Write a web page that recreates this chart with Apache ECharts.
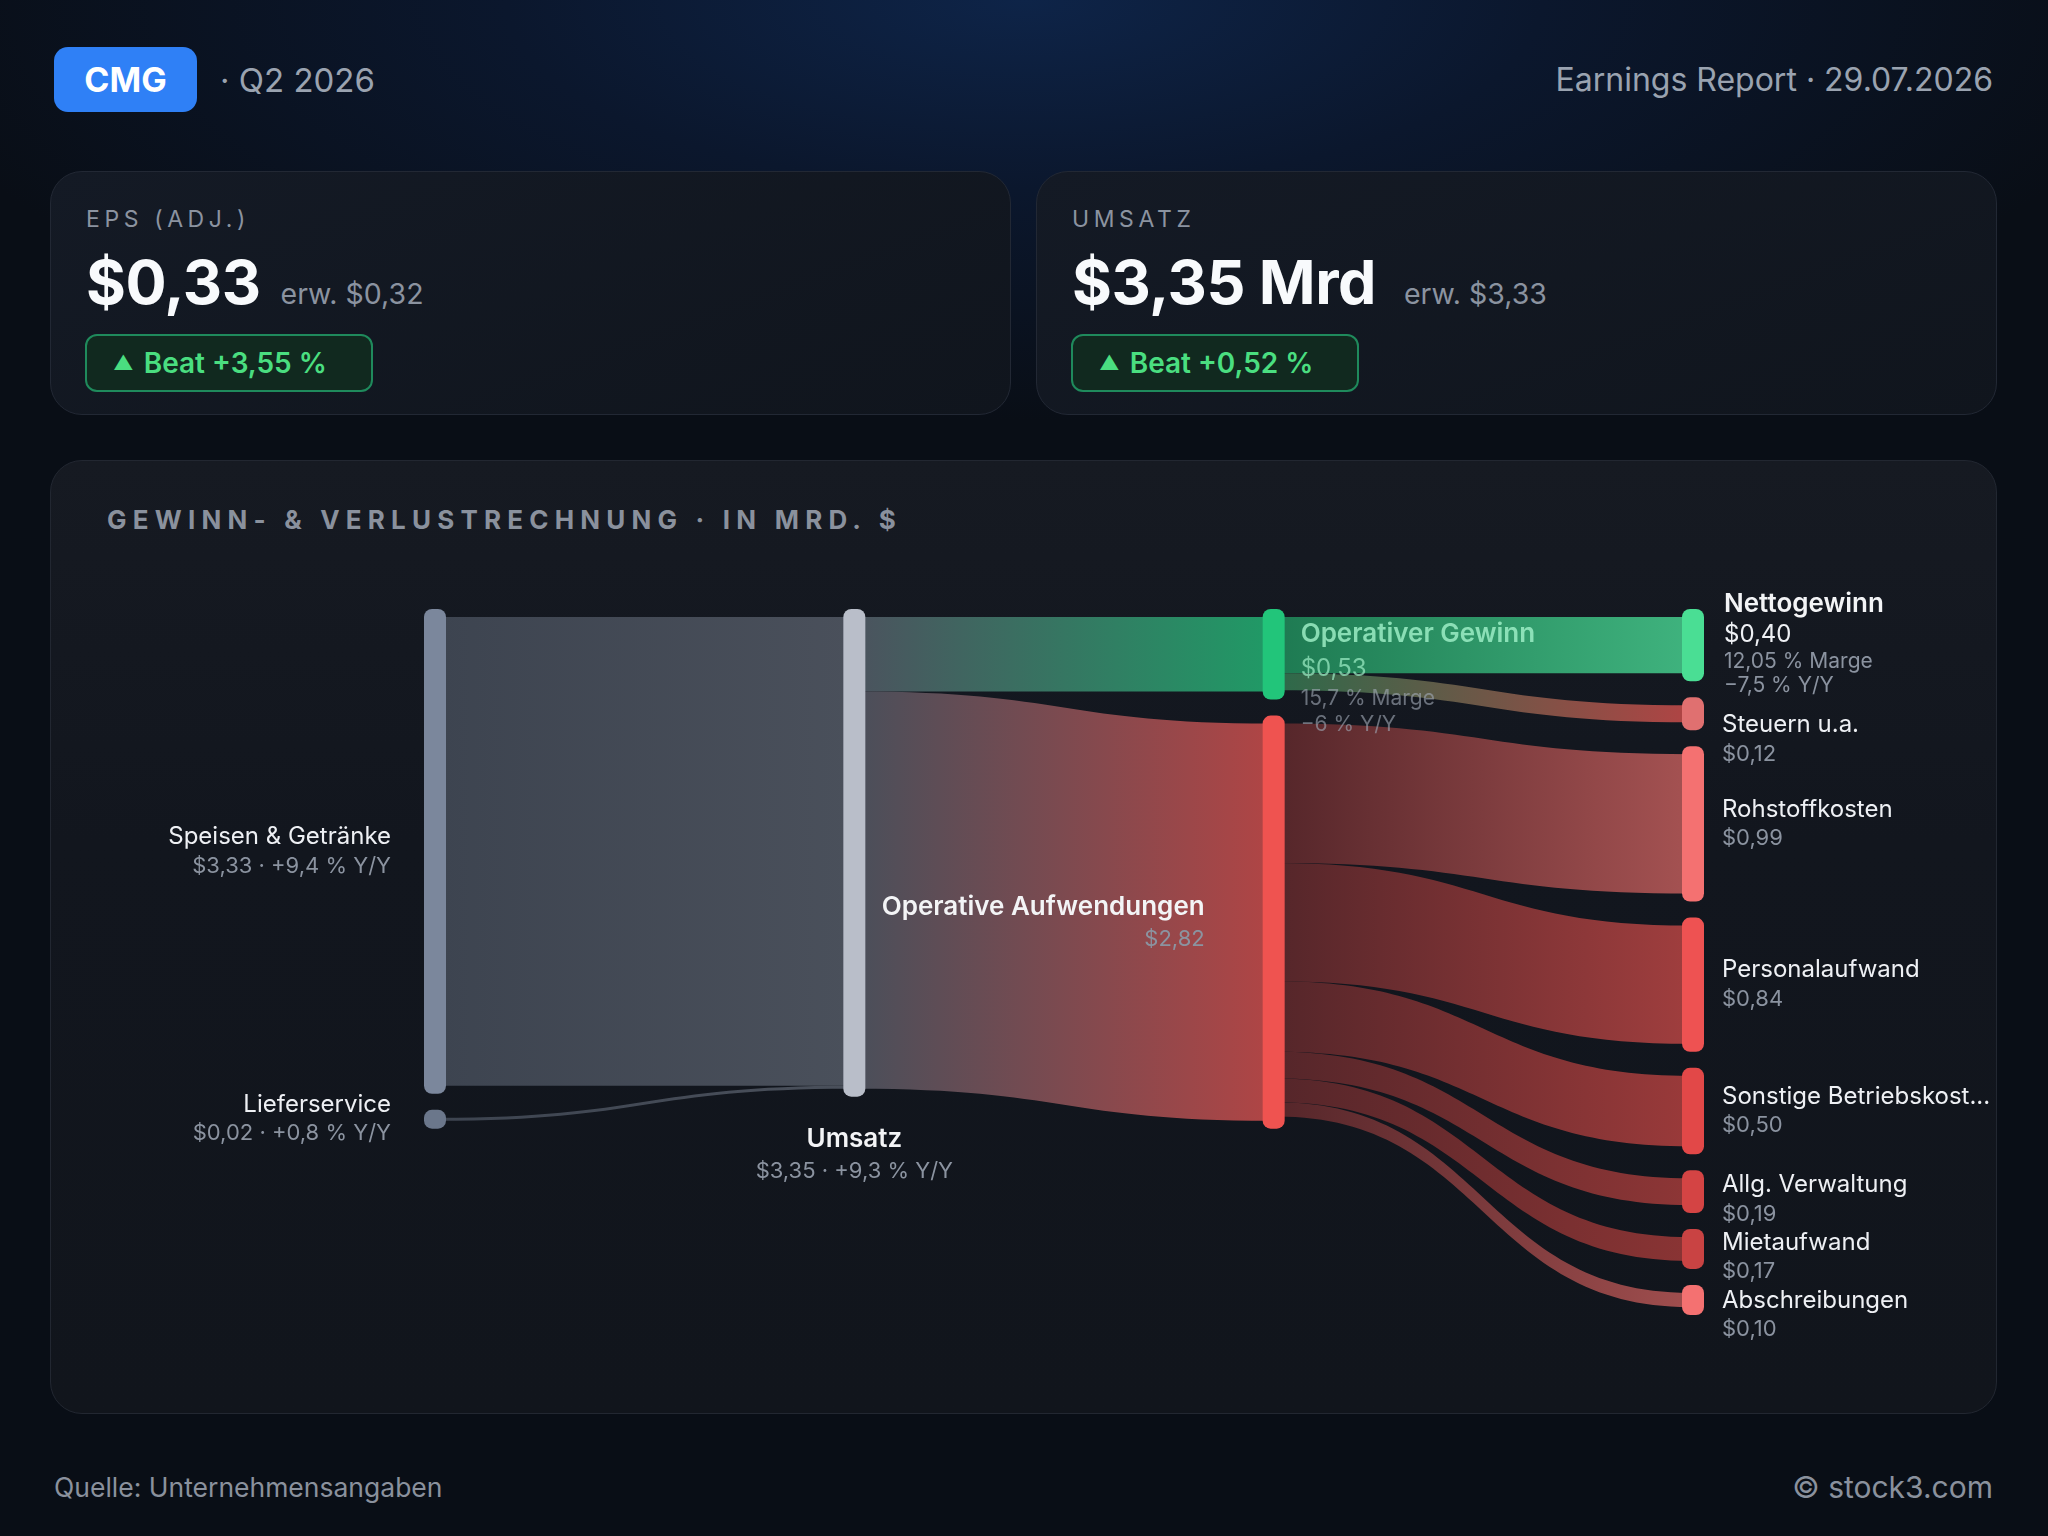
<!DOCTYPE html>
<html>
<head>
<meta charset="utf-8">
<script src="https://cdn.jsdelivr.net/npm/echarts@6/dist/echarts.min.js"></script>
<style>
  html, body { margin: 0; padding: 0; width: 2048px; height: 1536px; overflow: hidden; }
  body {
    position: relative;
    font-family: Inter, "Noto Sans", sans-serif;
    background: radial-gradient(ellipse 1150px 420px at 50% 0, #0e2448 0%, #0b172d 45%, #090e16 100%), #090e16;
    color: #eef0f4;
  }
  .badge {
    position: absolute; left: 54px; top: 47px; width: 143px; height: 65px;
    background: #2f80f6; border-radius: 14px;
    font-size: 34px; font-weight: 700; color: #fff;
    display: flex; align-items: center; justify-content: center;
  }
  .quarter { position: absolute; left: 220px; top: 60px; font-size: 33px; line-height: 40px; color: #9aa3b0; }
  .report { position: absolute; right: 55px; top: 60px; font-size: 32px; line-height: 40px; color: #9aa3b0; }
  .card {
    position: absolute; top: 171px; width: 959px; height: 242px;
    background: linear-gradient(160deg, #141a25 0%, #10151d 100%);
    border: 1px solid #222834; border-radius: 32px;
  }
  .card .lbl { position: absolute; left: 35px; top: 35px; font-size: 23px; line-height: 24px; letter-spacing: 4.6px; color: #8b93a0; }
  .card .val { position: absolute; left: 35px; top: 78px; line-height: 64px; white-space: nowrap; }
  .card .big { font-size: 61px; font-weight: 700; color: #f8fafc; letter-spacing: -0.5px; }
  .card .est { font-size: 28.5px; color: #8b93a0; margin-left: 20px; }
  .card .pill {
    position: absolute; left: 34px; top: 162px; height: 54px; padding: 0 44px 0 26px;
    border: 2px solid #1f8a5c; border-radius: 12px; background: #11291f;
    font-size: 28px; font-weight: 600; color: #4ade80; line-height: 54px; white-space: nowrap;
  }
  .card .pill .tri { font-size: 20px; position: relative; top: -3px; margin-right: 10px; }
  .panel {
    position: absolute; left: 50px; top: 460px; width: 1945px; height: 952px;
    background: linear-gradient(180deg, #161a22 0%, #12161e 40%, #11151c 100%);
    border: 1px solid #222731; border-radius: 32px;
  }
  .ptitle {
    position: absolute; left: 107px; top: 505px; font-size: 26px; line-height: 30px; font-weight: 700;
    letter-spacing: 6.2px; color: #8a919d;
  }
  .foot { position: absolute; top: 1470px; font-size: 26.5px; line-height: 34px; color: #8a919d; }
  #chart { position: absolute; left: 0; top: 0; width: 2048px; height: 1536px; }
</style>
</head>
<body>
<div class="badge">CMG</div>
<div class="quarter">· Q2 2026</div>
<div class="report">Earnings Report · 29.07.2026</div>
<div id="cards"></div>
<div class="panel"></div>
<div class="ptitle">GEWINN- &amp; VERLUSTRECHNUNG · IN MRD. $</div>
<div class="foot" style="left:54px">Quelle: Unternehmensangaben</div>
<div class="foot" style="right:55px;font-size:30px">© stock3.com</div>
<div id="chart"></div>
<script>
// Kennzahlen-Karten
var kpiLabels = ['EPS (ADJ.)', 'UMSATZ'];
var kpiValues = ['$0,33', '$3,35 Mrd'];
var kpiEstimates = ['erw. $0,32', 'erw. $3,33'];
var kpiBeats = ['+3,55 %', '+0,52 %'];

// GuV-Sankey
var nodeNames = ['Speisen & Getränke', 'Lieferservice', 'Umsatz', 'Operativer Gewinn', 'Operative Aufwendungen',
    'Nettogewinn', 'Steuern u.a.', 'Rohstoffkosten', 'Personalaufwand', 'Sonstige Betriebskosten',
    'Allg. Verwaltung', 'Mietaufwand', 'Abschreibungen'];
var nodeValues = [3.33, 0.02, 3.35, 0.53, 2.82, 0.40, 0.12, 0.99, 0.84, 0.50, 0.19, 0.17, 0.10];
var nodeYoY = ['+9,4 % Y/Y', '+0,8 % Y/Y', '+9,3 % Y/Y', '−6 % Y/Y', null, '−7,5 % Y/Y',
    null, null, null, null, null, null, null];
var nodeMargins = [null, null, null, '15,7 % Marge', null, '12,05 % Marge', null, null, null, null, null, null, null];
var linkSources = [0, 1, 2, 2, 3, 3, 4, 4, 4, 4, 4, 4];
var linkTargets = [2, 2, 3, 4, 5, 6, 7, 8, 9, 10, 11, 12];
var linkValues = [3.33, 0.02, 0.53, 2.82, 0.40, 0.12, 0.99, 0.84, 0.50, 0.19, 0.17, 0.10];

var cards = document.getElementById('cards');
kpiLabels.forEach(function (lbl, i) {
    var d = document.createElement('div');
    d.className = 'card';
    d.style.left = (i === 0 ? 50 : 1036) + 'px';
    d.innerHTML = '<div class="lbl">' + lbl + '</div>' +
        '<div class="val"><span class="big">' + kpiValues[i] + '</span><span class="est"' +
        (i === 1 ? ' style="margin-left:28px"' : '') + '>' + kpiEstimates[i] + '</span></div>' +
        '<div class="pill"><span class="tri">▲</span>Beat ' + kpiBeats[i] + '</div>';
    cards.appendChild(d);
});

function money(v) {
    return '$' + v.toFixed(2).replace('.', ',');
}

var nodeColors = ['#7b879c', '#6b778b', '#b9bec9', '#22c57a', '#ef5350', '#4ade94', '#e07070',
    '#f47171', '#ee5252', '#e24848', '#d44444', '#c94343', '#f47171'];
// Farbverlauf je Link: [Start, Ende]
var linkColors = [
    ['#3d4450', '#4a505b'], ['#3d4450', '#4a505b'],
    ['#4b535e', '#209a66'], ['#4a4f5a', '#b04545'],
    ['#1e7a52', '#3fb37e'], ['#2c6a4a', '#b04444'],
    ['#55262a', '#a55252'], ['#55262a', '#a03e3e'], ['#55262a', '#9a3a3a'],
    ['#55262a', '#8e3636'], ['#55262a', '#8a3434'], ['#55262a', '#a04e4e']
];

function richFor(align) {
    return {
        n: { fontSize: 24, color: '#eef0f4', lineHeight: 29, align: align, fontFamily: 'Inter' },
        nb: { fontSize: 26, fontWeight: 600, color: '#f3f4f6', lineHeight: 34, align: align, fontFamily: 'Inter' },
        v: { fontSize: 22, color: '#8b93a0', lineHeight: 29, align: align, fontFamily: 'Inter' },
        nn: { fontSize: 26, fontWeight: 600, color: '#f3f4f6', lineHeight: 32, align: align, fontFamily: 'Inter' },
        vw: { fontSize: 24, color: '#eef0f4', lineHeight: 30, align: align, fontFamily: 'Inter' },
        s: { fontSize: 21, color: '#8b93a0', lineHeight: 24, align: align, fontFamily: 'Inter' },
        gn: { fontSize: 26, fontWeight: 600, color: 'rgba(160,240,200,0.82)', lineHeight: 34, align: align, fontFamily: 'Inter' },
        gv: { fontSize: 24, color: 'rgba(160,240,200,0.7)', lineHeight: 34, align: align, fontFamily: 'Inter' },
        gs: { fontSize: 21, color: 'rgba(160,168,180,0.62)', lineHeight: 26, align: align, fontFamily: 'Inter' }
    };
}

// vertikaler Label-Versatz je Knoten (Pixel)
var labelShift = { 3: 23, 5: -2, 6: 26, 10: 8, 11: 8, 12: 15 };

var nodes = nodeNames.map(function (name, i) {
    var v = money(nodeValues[i]);
    var label;
    if (i === 0 || i === 1) {
        label = { position: 'left', distance: 33, align: 'right', rich: richFor('right'),
            formatter: '{n|' + name + '}\n{v|' + v + ' · ' + nodeYoY[i] + '}' };
    } else if (i === 2) {
        label = { position: 'bottom', distance: 26, align: 'center', rich: richFor('center'),
            formatter: '{nb|' + name + '}\n{v|' + v + ' · ' + nodeYoY[i] + '}' };
    } else if (i === 3) {
        label = { position: 'right', distance: 16, rich: richFor('left'),
            formatter: '{gn|' + name + '}\n{gv|' + v + '}\n{gs|' + nodeMargins[i] + '}\n{gs|' + nodeYoY[i] + '}' };
    } else if (i === 4) {
        label = { position: 'left', distance: 58, align: 'right', rich: richFor('right'),
            formatter: '{nb|' + name + '}\n{v|' + v + '}' };
    } else if (i === 5) {
        label = { position: 'right', distance: 20, rich: richFor('left'),
            formatter: '{nn|' + name + '}\n{vw|' + v + '}\n{s|' + nodeMargins[i] + '}\n{s|' + nodeYoY[i] + '}' };
    } else {
        label = { position: 'right', distance: 18, rich: richFor('left'),
            formatter: '{n|' + name + '}\n{v|' + v + '}' };
        if (i === 9) {
            label.width = 272;
            label.overflow = 'truncate';
            label.ellipsis = '...';
        }
    }
    if (labelShift[i]) label.offset = [0, labelShift[i]];
    return {
        name: name,
        value: nodeValues[i],
        itemStyle: { color: nodeColors[i], borderColor: nodeColors[i], borderWidth: 16, borderJoin: 'round' },
        label: label
    };
});

var links = linkSources.map(function (s, i) {
    return {
        source: nodeNames[s],
        target: nodeNames[linkTargets[i]],
        value: linkValues[i],
        lineStyle: {
            color: {
                type: 'linear', x: 0, y: 0, x2: 1, y2: 0,
                colorStops: [{ offset: 0, color: linkColors[i][0] }, { offset: 1, color: linkColors[i][1] }]
            },
            opacity: 1
        }
    };
});

var chart = echarts.init(document.getElementById('chart'), null, { renderer: 'canvas' });
chart.setOption({
    backgroundColor: 'transparent',
    animation: false,
    series: [{
        type: 'sankey',
        left: 432,
        top: 617,
        width: 1264,
        height: 690,
        nodeWidth: 6,
        nodeGap: 32,
        nodeAlign: 'justify',
        layoutIterations: 0,
        draggable: false,
        emphasis: { disabled: true },
        label: { show: true, fontFamily: 'Inter' },
        lineStyle: { curveness: 0.5 },
        data: nodes,
        links: links
    }]
});
</script>
</body>
</html>
